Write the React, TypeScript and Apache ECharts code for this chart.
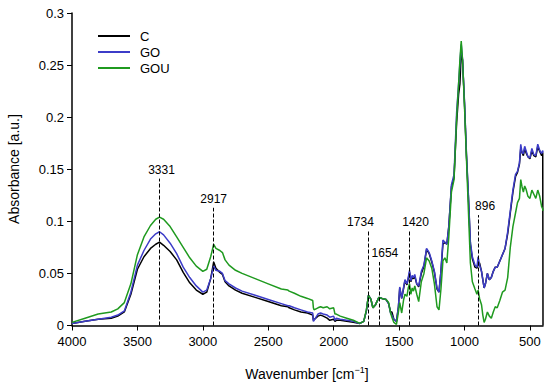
import React, { useEffect, useRef } from "react";
import * as echarts from "echarts";

const wavenumbers = [
  4000, 3900, 3800, 3700, 3650, 3600, 3550, 3500, 3450, 3400, 3360, 3331, 3300, 3250, 3200, 3150, 3100, 3050, 3000, 2970,
  2940, 2917, 2900, 2870, 2850, 2830, 2800, 2750, 2700, 2600, 2500, 2400, 2350, 2340, 2300, 2250, 2200, 2160, 2155, 2150,
  2120, 2100, 2080, 2050, 2030, 2000, 1990, 1980, 1950, 1900, 1850, 1800, 1770, 1750, 1734, 1715, 1700, 1680, 1654, 1630,
  1600, 1580, 1565, 1555, 1540, 1520, 1505, 1495, 1480, 1465, 1455, 1440, 1430, 1420, 1410, 1400, 1390, 1380, 1365, 1350,
  1330, 1310, 1290, 1270, 1250, 1230, 1210, 1195, 1180, 1165, 1150, 1135, 1120, 1100, 1080, 1060, 1045, 1035, 1025, 1015,
  1000, 985, 970, 955, 940, 920, 905, 896, 885, 870, 860, 850, 840, 825, 810, 795, 780, 765, 750, 730,
  710, 690, 670, 650, 630, 610, 595, 580, 570, 560, 550, 540, 530, 515, 500, 485, 470, 455, 440, 425,
  410, 402, 400,
];

const cValues = [
  0.002, 0.004, 0.006, 0.007, 0.009, 0.013, 0.030, 0.054, 0.066, 0.074, 0.078, 0.080, 0.077, 0.071, 0.063, 0.051, 0.041, 0.034, 0.030, 0.032,
  0.045, 0.061, 0.055, 0.051, 0.049, 0.042, 0.038, 0.034, 0.031, 0.027, 0.023, 0.019, 0.018, 0.017, 0.015, 0.013, 0.012, 0.010, 0.005, 0.005,
  0.009, 0.010, 0.009, 0.007, 0.005, 0.006, 0.004, 0.005, 0.005, 0.004, 0.003, 0.002, 0.004, 0.014, 0.029, 0.025, 0.017, 0.020, 0.027, 0.026,
  0.025, 0.021, 0.013, 0.013, 0.006, 0.004, 0.018, 0.036, 0.026, 0.036, 0.043, 0.039, 0.045, 0.051, 0.042, 0.046, 0.045, 0.047, 0.040, 0.037,
  0.050, 0.057, 0.073, 0.069, 0.061, 0.051, 0.035, 0.032, 0.052, 0.078, 0.080, 0.078, 0.095, 0.133, 0.142, 0.195, 0.222, 0.232, 0.262, 0.255,
  0.213, 0.163, 0.123, 0.078, 0.064, 0.056, 0.055, 0.058, 0.060, 0.052, 0.044, 0.036, 0.040, 0.050, 0.044, 0.046, 0.052, 0.056, 0.056, 0.062,
  0.068, 0.074, 0.088, 0.108, 0.128, 0.143, 0.147, 0.155, 0.170, 0.166, 0.163, 0.170, 0.166, 0.162, 0.160, 0.168, 0.163, 0.162, 0.172, 0.167,
  0.163, 0.166, 0.0,
];

const goValues = [
  0.002, 0.004, 0.006, 0.008, 0.010, 0.014, 0.032, 0.058, 0.072, 0.083, 0.088, 0.090, 0.087, 0.079, 0.069, 0.056, 0.046, 0.038, 0.032, 0.034,
  0.045, 0.057, 0.053, 0.052, 0.050, 0.043, 0.040, 0.036, 0.033, 0.029, 0.025, 0.021, 0.019, 0.019, 0.017, 0.015, 0.013, 0.012, 0.004, 0.005,
  0.011, 0.012, 0.011, 0.010, 0.008, 0.009, 0.005, 0.007, 0.006, 0.005, 0.004, 0.002, 0.004, 0.014, 0.029, 0.025, 0.017, 0.020, 0.027, 0.026,
  0.025, 0.021, 0.012, 0.010, 0.006, 0.004, 0.018, 0.037, 0.026, 0.037, 0.044, 0.040, 0.046, 0.053, 0.043, 0.048, 0.046, 0.049, 0.040, 0.038,
  0.052, 0.058, 0.074, 0.070, 0.062, 0.052, 0.036, 0.032, 0.052, 0.082, 0.080, 0.078, 0.095, 0.135, 0.145, 0.205, 0.232, 0.252, 0.270, 0.255,
  0.215, 0.165, 0.125, 0.080, 0.066, 0.058, 0.056, 0.066, 0.058, 0.052, 0.044, 0.036, 0.040, 0.050, 0.044, 0.046, 0.052, 0.056, 0.056, 0.062,
  0.068, 0.074, 0.090, 0.110, 0.130, 0.145, 0.148, 0.156, 0.174, 0.166, 0.165, 0.172, 0.168, 0.162, 0.161, 0.170, 0.164, 0.163, 0.174, 0.168,
  0.165, 0.168, 0.166,
];

const gouValues = [
  0.003, 0.007, 0.011, 0.013, 0.016, 0.022, 0.040, 0.068, 0.085, 0.096, 0.102, 0.104, 0.102, 0.095, 0.085, 0.075, 0.065, 0.057, 0.052, 0.054,
  0.066, 0.078, 0.074, 0.072, 0.070, 0.063, 0.058, 0.053, 0.050, 0.045, 0.040, 0.035, 0.034, 0.033, 0.031, 0.028, 0.026, 0.024, 0.017, 0.015,
  0.017, 0.018, 0.017, 0.018, 0.016, 0.017, 0.011, 0.011, 0.009, 0.007, 0.005, 0.002, 0.004, 0.015, 0.029, 0.025, 0.017, 0.020, 0.027, 0.026,
  0.025, 0.022, 0.012, 0.008, 0.003, 0.001, 0.013, 0.022, 0.012, 0.025, 0.030, 0.028, 0.036, 0.040, 0.030, 0.036, 0.033, 0.038, 0.030, 0.023,
  0.042, 0.050, 0.065, 0.062, 0.055, 0.040, 0.018, 0.015, 0.035, 0.062, 0.065, 0.060, 0.085, 0.128, 0.140, 0.200, 0.232, 0.255, 0.273, 0.255,
  0.210, 0.160, 0.110, 0.060, 0.042, 0.035, 0.030, 0.034, 0.026, 0.020, 0.010, 0.003, 0.006, 0.013, 0.009, 0.007, 0.013, 0.018, 0.017, 0.024,
  0.032, 0.034, 0.046, 0.075, 0.095, 0.108, 0.118, 0.122, 0.140, 0.133, 0.128, 0.134, 0.131, 0.124, 0.122, 0.130, 0.126, 0.122, 0.130, 0.124,
  0.114, 0.112, 0.110,
];

const seriesNames = ["C", "GO", "GOU"];
const seriesColors = ["#000000", "#3c3cc8", "#1f9a1f"];

const peakPositions = [3331, 2917, 1734, 1654, 1420, 896];
const peakLineTops = [0.141, 0.113, 0.091, 0.061, 0.091, 0.106];
const peakLabelPadding = [
  [0, 0, 0, 4],
  [0, 0, 0, 0],
  [0, 16, 0, 0],
  [0, 0, 0, 12],
  [0, 0, 0, 12],
  [0, 0, 0, 14],
];

const xTicks = [500, 1000, 1500, 2000, 2500, 3000, 3500, 4000];

export default function App() {
  const ref = useRef<HTMLDivElement>(null);

  useEffect(() => {
    if (!ref.current) return;
    const chart = echarts.init(ref.current, null, { renderer: "svg" });
    const font = "Liberation Sans, Arial, sans-serif";
    const valueSets = [cValues, goValues, gouValues];

    const series: any[] = seriesNames.map((name, i) => ({
      name,
      type: "line",
      data: wavenumbers.map((w, k) => [w, valueSets[i][k]]),
      showSymbol: false,
      symbol: "none",
      lineStyle: { color: seriesColors[i], width: 1.5 },
      itemStyle: { color: seriesColors[i] },
      z: 2 + i,
    }));

    series[2].markLine = {
      silent: true,
      symbol: ["none", "none"],
      lineStyle: { color: "#000", width: 1, type: [4, 2] },
      label: {
        show: true,
        position: "end",
        color: "#000",
        fontSize: 12,
        fontFamily: font,
        distance: 3,
      },
      data: peakPositions.map((p, i) => [
        {
          coord: [p, 0],
          label: {
            show: true,
            position: "end",
            formatter: String(p),
            padding: peakLabelPadding[i],
          },
        },
        { coord: [p, peakLineTops[i]] },
      ]),
    };

    chart.setOption({
      animation: false,
      textStyle: { fontFamily: font },
      grid: { left: 72, right: 7, top: 13, bottom: 64.5, containLabel: false },
      legend: {
        data: seriesNames,
        orient: "vertical",
        left: 98,
        top: 28,
        padding: 0,
        itemGap: 0,
        itemWidth: 32,
        itemHeight: 2,
        icon: "rect",
        textStyle: { fontSize: 13, color: "#000", lineHeight: 16, padding: [0, 0, 0, 5], fontFamily: font },
      },
      xAxis: {
        type: "value",
        inverse: true,
        min: 400,
        max: 4000,
        splitLine: { show: false },
        axisLine: { show: true, onZero: false, lineStyle: { color: "#000", width: 1.5 } },
        axisTick: { show: true, length: 5, customValues: xTicks, lineStyle: { color: "#000", width: 1 } },
        axisLabel: {
          customValues: xTicks,
          formatter: (v: number) => String(v),
          fontSize: 13,
          color: "#000",
          margin: 9,
          fontFamily: font,
        },
      },
      yAxis: {
        type: "value",
        min: 0,
        max: 0.3,
        interval: 0.05,
        splitLine: { show: false },
        axisLine: { show: true, lineStyle: { color: "#000", width: 1.5 } },
        axisTick: { show: true, length: 5, lineStyle: { color: "#000", width: 1 } },
        axisLabel: { formatter: (v: number) => String(Math.round(v * 100) / 100), fontSize: 13, color: "#000", margin: 8, fontFamily: font },
      },
      graphic: [
        {
          type: "text",
          x: 14,
          y: 169,
          rotation: Math.PI / 2,
          style: {
            text: "Absorbance [a.u.]",
            fontSize: 14,
            fontFamily: font,
            fill: "#000",
            align: "center",
            verticalAlign: "middle",
          },
        },
        {
          type: "text",
          x: 307,
          y: 374,
          style: {
            text: "Wavenumber [cm{sup|−1}]",
            fontSize: 14,
            fontFamily: font,
            fill: "#000",
            align: "center",
            verticalAlign: "middle",
            rich: {
              sup: { fontSize: 9, fontFamily: font, fill: "#000", padding: [0, 0, 8, 0] },
            },
          },
        },
      ],
      series,
    });

    return () => chart.dispose();
  }, []);

  return <div ref={ref} style={{ position: "absolute", left: 0, top: 0, width: 550, height: 390 }} />;
}
